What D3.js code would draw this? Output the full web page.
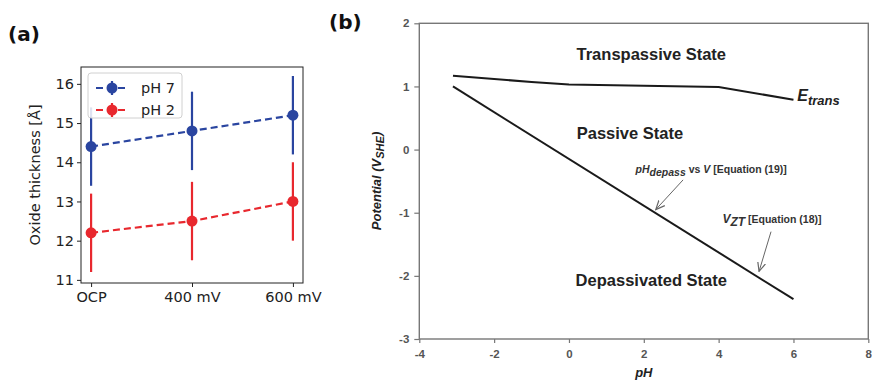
<!DOCTYPE html>
<html><head><meta charset="utf-8">
<script src="https://cdn.jsdelivr.net/npm/d3@7/dist/d3.min.js"></script>
<style>body{margin:0;background:#fff}svg{display:block}</style>
</head><body>
<svg id="c" width="872" height="380"></svg>
<script>
// Panel (a) data
const categories = ["OCP", "400 mV", "600 mV"];
const ph7 = [14.4, 14.8, 15.2];
const ph7Err = [1.0, 1.0, 1.0];
const ph2 = [12.2, 12.5, 13.0];
const ph2Err = [1.0, 1.0, 1.0];
const aYTicks = [11, 12, 13, 14, 15, 16];
const seriesNames = ["pH 7", "pH 2"];

// Panel (b) data
const eTransPH = [-3.1, -1.0, 0, 2, 4, 6];
const eTransV  = [1.17, 1.07, 1.03, 1.01, 0.99, 0.79];
const vztPH = [-3.1, 6.0];
const vztV  = [1.0, -2.37];
const bXTicks = [-4, -2, 0, 2, 4, 6, 8];
const bYTicks = [-3, -2, -1, 0, 1, 2];

const svg = d3.select("#c");
const blue = "#2a45a0", red = "#e8282e";

// ---------- Panel (a) ----------
const ax = d3.scaleLinear().domain([-0.1, 2.1]).range([81, 303]);
const ay = d3.scaleLinear().domain([10.92, 16.43]).range([283, 67]);
const ga = svg.append("g");

ga.append("text").attr("x", 8).attr("y", 41).text("(a)")
  .attr("font-family", "DejaVu Sans").attr("font-weight", "bold").attr("font-size", 20).attr("fill", "#111");

const yAxisA = ga.append("g").attr("transform", "translate(81,0)")
  .call(d3.axisLeft(ay).tickValues(aYTicks).tickSize(4).tickPadding(3).tickFormat(d => String(d)));
const xAxisA = ga.append("g").attr("transform", "translate(0,283)")
  .call(d3.axisBottom(ax).tickValues([0, 1, 2]).tickSize(4).tickPadding(5).tickFormat(i => categories[i]));
[yAxisA, xAxisA].forEach(g => {
  g.select(".domain").remove();
  g.selectAll("line").attr("stroke", "#222").attr("stroke-width", 1);
  g.selectAll("text").attr("font-family", "DejaVu Sans").attr("font-size", 14.5).attr("fill", "#222");
});
ga.append("rect").attr("x", 81).attr("y", 67).attr("width", 222).attr("height", 216)
  .attr("fill", "none").attr("stroke", "#222").attr("stroke-width", 1);

ga.append("text").attr("transform", "translate(40,175) rotate(-90)").attr("text-anchor", "middle")
  .attr("font-family", "DejaVu Sans").attr("font-size", 14.5).attr("fill", "#222").text("Oxide thickness [Å]");

function drawSeries(vals, errs, color) {
  const line = d3.line().x((d, i) => ax(i)).y(d => ay(d));
  ga.append("path").datum(vals).attr("d", line).attr("fill", "none")
    .attr("stroke", color).attr("stroke-width", 2.2).attr("stroke-dasharray", "7,4");
  vals.forEach((v, i) => {
    ga.append("line").attr("x1", ax(i)).attr("x2", ax(i)).attr("y1", ay(v - errs[i])).attr("y2", ay(v + errs[i]))
      .attr("stroke", color).attr("stroke-width", 2.2);
    ga.append("circle").attr("cx", ax(i)).attr("cy", ay(v)).attr("r", 5.5).attr("fill", color);
  });
}
drawSeries(ph2, ph2Err, red);
drawSeries(ph7, ph7Err, blue);

// legend
const lg = ga.append("g");
lg.append("rect").attr("x", 88).attr("y", 73).attr("width", 94).attr("height", 45).attr("rx", 3)
  .attr("fill", "#fff").attr("fill-opacity", 0.85).attr("stroke", "#d0d0d0");
[[seriesNames[0], blue, 88], [seriesNames[1], red, 110]].forEach(([name, col, y]) => {
  lg.append("line").attr("x1", 96).attr("x2", 128).attr("y1", y).attr("y2", y)
    .attr("stroke", col).attr("stroke-width", 2.2).attr("stroke-dasharray", "7,4");
  lg.append("line").attr("x1", 112).attr("x2", 112).attr("y1", y - 7).attr("y2", y + 7)
    .attr("stroke", col).attr("stroke-width", 2.2);
  lg.append("circle").attr("cx", 112).attr("cy", y).attr("r", 5.5).attr("fill", col);
  lg.append("text").attr("x", 141).attr("y", y + 5).text(name)
    .attr("font-family", "DejaVu Sans").attr("font-size", 14.5).attr("fill", "#222");
});

// ---------- Panel (b) ----------
const bx = d3.scaleLinear().domain([-4, 8]).range([419.3, 868.3]);
const by = d3.scaleLinear().domain([-3, 2]).range([339, 23.3]);
const gb = svg.append("g");

gb.append("text").attr("x", 329).attr("y", 29).text("(b)")
  .attr("font-family", "DejaVu Sans").attr("font-weight", "bold").attr("font-size", 20).attr("fill", "#111");

gb.append("rect").attr("x", 419.3).attr("y", 23.3).attr("width", 449).attr("height", 315.7)
  .attr("fill", "none").attr("stroke", "#777").attr("stroke-width", 1.4);
const yAxisB = gb.append("g").attr("transform", "translate(419.3,0)")
  .call(d3.axisLeft(by).tickValues(bYTicks).tickSize(5).tickPadding(5).tickFormat(d => String(d)));
const xAxisB = gb.append("g").attr("transform", "translate(0,339)")
  .call(d3.axisBottom(bx).tickValues(bXTicks).tickSize(4).tickPadding(7).tickFormat(d => String(d)));
[yAxisB, xAxisB].forEach(g => {
  g.select(".domain").remove();
  g.selectAll("line").attr("stroke", "#777").attr("stroke-width", 1.2);
  g.selectAll("text").attr("font-family", "Liberation Sans").attr("font-weight", "bold")
    .attr("font-size", 11.5).attr("fill", "#555");
});

const fam = "Liberation Sans";
gb.append("text").attr("x", bx(2)).attr("y", 377).attr("text-anchor", "middle")
  .attr("font-family", fam).attr("font-weight", "bold").attr("font-style", "italic").attr("font-size", 13)
  .attr("fill", "#222").text("pH");
const yl = gb.append("text").attr("transform", "translate(381,181) rotate(-90)").attr("text-anchor", "middle")
  .attr("font-family", fam).attr("font-weight", "bold").attr("font-style", "italic").attr("font-size", 13).attr("fill", "#222");
yl.append("tspan").text("Potential (V");
yl.append("tspan").attr("dy", 3).attr("font-size", 11).text("SHE");
yl.append("tspan").attr("dy", -3).text(")");

const lineB = d3.line().x(d => bx(d[0])).y(d => by(d[1]));
gb.append("path").datum(eTransPH.map((p, i) => [p, eTransV[i]])).attr("d", lineB)
  .attr("fill", "none").attr("stroke", "#1a1a1a").attr("stroke-width", 2);
gb.append("path").datum(vztPH.map((p, i) => [p, vztV[i]])).attr("d", lineB)
  .attr("fill", "none").attr("stroke", "#1a1a1a").attr("stroke-width", 2);

function label(x, y, txt, size, anchor) {
  return gb.append("text").attr("x", bx(x)).attr("y", by(y)).attr("text-anchor", anchor || "middle")
    .attr("font-family", fam).attr("font-weight", "bold").attr("font-size", size).attr("fill", "#222").text(txt);
}
label(2.2, 1.42, "Transpassive State", 16.5);
label(1.63, 0.17, "Passive State", 16.5);
label(2.2, -2.16, "Depassivated State", 16.5);

const et = gb.append("text").attr("x", bx(6.1)).attr("y", by(0.77)).attr("font-family", fam)
  .attr("font-weight", "bold").attr("font-style", "italic").attr("font-size", 16).attr("fill", "#222");
et.append("tspan").text("E");
et.append("tspan").attr("dy", 4).attr("font-size", 13).text("trans");

const eq19 = gb.append("text").attr("x", bx(3.8)).attr("y", by(-0.37)).attr("text-anchor", "middle")
  .attr("font-family", fam).attr("font-weight", "bold").attr("font-size", 10.5).attr("fill", "#333");
eq19.append("tspan").attr("font-style", "italic").text("pH");
eq19.append("tspan").attr("font-style", "italic").attr("dy", 3).text("depass");
eq19.append("tspan").attr("dy", -3).text(" vs ");
eq19.append("tspan").attr("font-style", "italic").text("V");
eq19.append("tspan").text(" [Equation (19)]");

const eq18 = gb.append("text").attr("x", bx(4.1)).attr("y", by(-1.16))
  .attr("font-family", fam).attr("font-weight", "bold").attr("font-size", 10.5).attr("fill", "#333");
eq18.append("tspan").attr("font-style", "italic").attr("font-size", 12).text("V");
eq18.append("tspan").attr("font-style", "italic").attr("font-size", 12).attr("dy", 3).text("ZT");
eq18.append("tspan").attr("dy", -3).text(" [Equation (18)]");

// arrows
const defs = svg.append("defs");
defs.append("marker").attr("id", "ah").attr("viewBox", "0 0 10 10").attr("refX", 9).attr("refY", 5)
  .attr("markerWidth", 10).attr("markerHeight", 10).attr("orient", "auto")
  .append("path").attr("d", "M0,1 L9,5 L0,9").attr("fill", "none").attr("stroke", "#666").attr("stroke-width", 1.2);
function arrow(x1, y1, x2, y2) {
  gb.append("line").attr("x1", bx(x1)).attr("y1", by(y1)).attr("x2", bx(x2)).attr("y2", by(y2))
    .attr("stroke", "#666").attr("stroke-width", 1).attr("marker-end", "url(#ah)");
}
arrow(3.05, -0.48, 2.32, -0.95);
arrow(5.4, -1.3, 5.08, -1.93);
</script>
</body></html>
